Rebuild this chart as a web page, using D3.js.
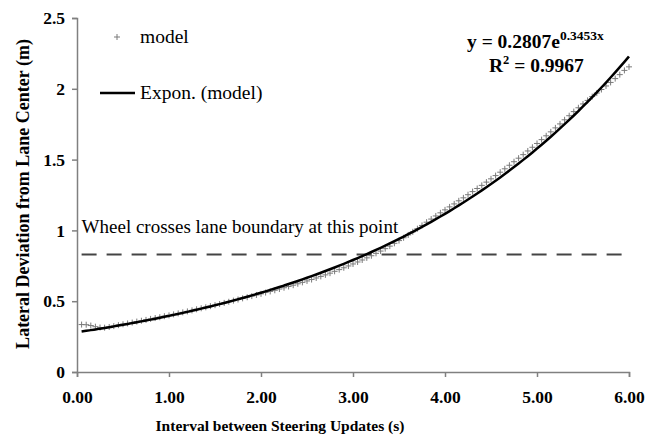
<!DOCTYPE html>
<html>
<head>
<meta charset="utf-8">
<script src="https://cdn.jsdelivr.net/npm/d3@7"></script>
</head>
<body style="margin:0">
<script>
// model points (interval s, lateral deviation m)
const intervals = [
  0.05, 0.10, 0.15, 0.20, 0.25, 0.30, 0.35, 0.40, 0.45, 0.50,
  0.55, 0.60, 0.65, 0.70, 0.75, 0.80, 0.85, 0.90, 0.95, 1.00,
  1.05, 1.10, 1.15, 1.20, 1.25, 1.30, 1.35, 1.40, 1.45, 1.50,
  1.55, 1.60, 1.65, 1.70, 1.75, 1.80, 1.85, 1.90, 1.95, 2.00,
  2.05, 2.10, 2.15, 2.20, 2.25, 2.30, 2.35, 2.40, 2.45, 2.50,
  2.55, 2.60, 2.65, 2.70, 2.75, 2.80, 2.85, 2.90, 2.95, 3.00,
  3.05, 3.10, 3.15, 3.20, 3.25, 3.30, 3.35, 3.40, 3.45, 3.50,
  3.55, 3.60, 3.65, 3.70, 3.75, 3.80, 3.85, 3.90, 3.95, 4.00,
  4.05, 4.10, 4.15, 4.20, 4.25, 4.30, 4.35, 4.40, 4.45, 4.50,
  4.55, 4.60, 4.65, 4.70, 4.75, 4.80, 4.85, 4.90, 4.95, 5.00,
  5.05, 5.10, 5.15, 5.20, 5.25, 5.30, 5.35, 5.40, 5.45, 5.50,
  5.55, 5.60, 5.65, 5.70, 5.75, 5.80, 5.85, 5.90, 5.95, 6.00
];
const deviations = [
  0.335, 0.334, 0.328, 0.320, 0.314, 0.313, 0.318, 0.324, 0.331, 0.337,
  0.343, 0.349, 0.356, 0.362, 0.368, 0.375, 0.381, 0.387, 0.394, 0.400,
  0.407, 0.414, 0.421, 0.428, 0.435, 0.443, 0.450, 0.457, 0.465, 0.472,
  0.480, 0.488, 0.496, 0.504, 0.512, 0.520, 0.528, 0.536, 0.544, 0.552,
  0.561, 0.569, 0.577, 0.586, 0.595, 0.604, 0.613, 0.623, 0.633, 0.643,
  0.653, 0.664, 0.675, 0.686, 0.698, 0.711, 0.723, 0.736, 0.749, 0.763,
  0.777, 0.791, 0.806, 0.821, 0.838, 0.854, 0.871, 0.889, 0.909, 0.928,
  0.948, 0.968, 0.990, 1.012, 1.035, 1.058, 1.080, 1.102, 1.124, 1.145,
  1.166, 1.187, 1.209, 1.230, 1.252, 1.274, 1.296, 1.318, 1.341, 1.364,
  1.387, 1.411, 1.435, 1.460, 1.485, 1.510, 1.535, 1.561, 1.587, 1.614,
  1.641, 1.668, 1.696, 1.724, 1.752, 1.781, 1.810, 1.839, 1.866, 1.893,
  1.918, 1.945, 1.970, 1.995, 2.020, 2.045, 2.072, 2.100, 2.130, 2.155
];

// exponential trendline as printed on the chart
const trendA = 0.2807;
const trendB = 0.3453;
const trendRange = [0.05, 6.0];

const boundaryLevel = 0.83;

const xTicks = [0, 1, 2, 3, 4, 5, 6];
const yTicks = [0, 0.5, 1, 1.5, 2, 2.5];

const fontName = "Liberation Serif";

const dimensions = {
  width: 656,
  height: 438,
  margin: { top: 18, right: 27, bottom: 66, left: 77 }
};
dimensions.boundedWidth = dimensions.width - dimensions.margin.left - dimensions.margin.right;
dimensions.boundedHeight = dimensions.height - dimensions.margin.top - dimensions.margin.bottom;

const svg = d3.select("body")
  .append("svg")
  .attr("width", dimensions.width)
  .attr("height", dimensions.height)
  .attr("font-family", fontName);

const bounds = svg.append("g")
  .attr("transform", `translate(${dimensions.margin.left},${dimensions.margin.top})`);

const xScale = d3.scaleLinear()
  .domain([0, 6])
  .range([0, dimensions.boundedWidth]);

const yScale = d3.scaleLinear()
  .domain([0, 2.5])
  .range([dimensions.boundedHeight, 0]);

// axes
const axisColor = "#808080";

const yAxis = bounds.append("g")
  .call(d3.axisLeft(yScale).tickValues(yTicks).tickFormat(d3.format("~g")).tickSize(5).tickPadding(6));
const xAxis = bounds.append("g")
  .attr("transform", `translate(0,${dimensions.boundedHeight})`)
  .call(d3.axisBottom(xScale).tickValues(xTicks).tickFormat(d3.format(".2f")).tickSize(5).tickPadding(10));

[xAxis, yAxis].forEach(ax => {
  ax.attr("font-family", fontName).attr("font-size", 17.5).attr("font-weight", "bold");
  ax.select(".domain").attr("stroke", axisColor).attr("stroke-width", 1.5);
  ax.selectAll(".tick line").attr("stroke", axisColor).attr("stroke-width", 1.5);
  ax.selectAll(".tick text").attr("fill", "#000");
});
xAxis.selectAll(".tick text").attr("dy", "0.9em");
yAxis.selectAll(".tick text").attr("dx", "-1");

// boundary dashed line
bounds.append("line")
  .attr("x1", xScale(0.05))
  .attr("x2", xScale(6.02))
  .attr("y1", yScale(boundaryLevel))
  .attr("y2", yScale(boundaryLevel))
  .attr("stroke", "#444")
  .attr("stroke-width", 2)
  .attr("stroke-dasharray", "15 10");

bounds.append("text")
  .attr("x", xScale(0.05))
  .attr("y", yScale(1) + 3)
  .attr("font-family", fontName)
  .attr("font-size", 19)
  .text("Wheel crosses lane boundary at this point");

// model markers
const dataset = intervals.map((x, i) => ({ x: x, y: deviations[i] }));
const plusPath = "M-3,0H3M0,-3V3";
bounds.append("g")
  .selectAll("path")
  .data(dataset)
  .enter()
  .append("path")
  .attr("d", plusPath)
  .attr("transform", d => `translate(${xScale(d.x)},${yScale(d.y)})`)
  .attr("stroke", "#7a7a7a")
  .attr("stroke-width", 1)
  .attr("fill", "none");

// trendline
const trendX = d3.range(trendRange[0], trendRange[1] + 0.001, 0.05);
const trendLine = d3.line()
  .x(d => xScale(d))
  .y(d => yScale(trendA * Math.exp(trendB * d)))
  .curve(d3.curveMonotoneX);
bounds.append("path")
  .datum(trendX)
  .attr("d", trendLine)
  .attr("fill", "none")
  .attr("stroke", "#000")
  .attr("stroke-width", 2.5);

// legend
const legend = svg.append("g");
legend.append("path")
  .attr("d", plusPath)
  .attr("transform", "translate(117,37)")
  .attr("stroke", "#7a7a7a")
  .attr("fill", "none");
legend.append("text")
  .attr("x", 140).attr("y", 43)
  .attr("font-family", fontName)
  .attr("font-size", 19.5)
  .text("model");
legend.append("line")
  .attr("x1", 100).attr("x2", 135)
  .attr("y1", 93).attr("y2", 93)
  .attr("stroke", "#000")
  .attr("stroke-width", 2.5);
legend.append("text")
  .attr("x", 140).attr("y", 99)
  .attr("font-family", fontName)
  .attr("font-size", 19.5)
  .text("Expon. (model)");

// equation
const eq = svg.append("text")
  .attr("x", 467).attr("y", 48)
  .attr("font-family", fontName)
  .attr("font-size", 19.5)
  .attr("font-weight", "bold");
eq.append("tspan").text("y = 0.2807e");
eq.append("tspan").attr("dy", -8).attr("font-size", 13.5).text("0.3453x");

const r2 = svg.append("text")
  .attr("x", 489).attr("y", 72)
  .attr("font-family", fontName)
  .attr("font-size", 19.5)
  .attr("font-weight", "bold");
r2.append("tspan").text("R");
r2.append("tspan").attr("dy", -8).attr("font-size", 12.5).text("2");
r2.append("tspan").attr("dy", 8).text(" = 0.9967");

// axis titles
svg.append("text")
  .attr("x", 280)
  .attr("y", 431)
  .attr("text-anchor", "middle")
  .attr("font-family", fontName)
  .attr("font-size", 15.5)
  .attr("font-weight", "bold")
  .text("Interval between Steering Updates (s)");

svg.append("text")
  .attr("transform", "translate(29,194) rotate(-90)")
  .attr("text-anchor", "middle")
  .attr("font-family", fontName)
  .attr("font-size", 18)
  .attr("font-weight", "bold")
  .text("Lateral Deviation from Lane Center (m)");
</script>
</body>
</html>
